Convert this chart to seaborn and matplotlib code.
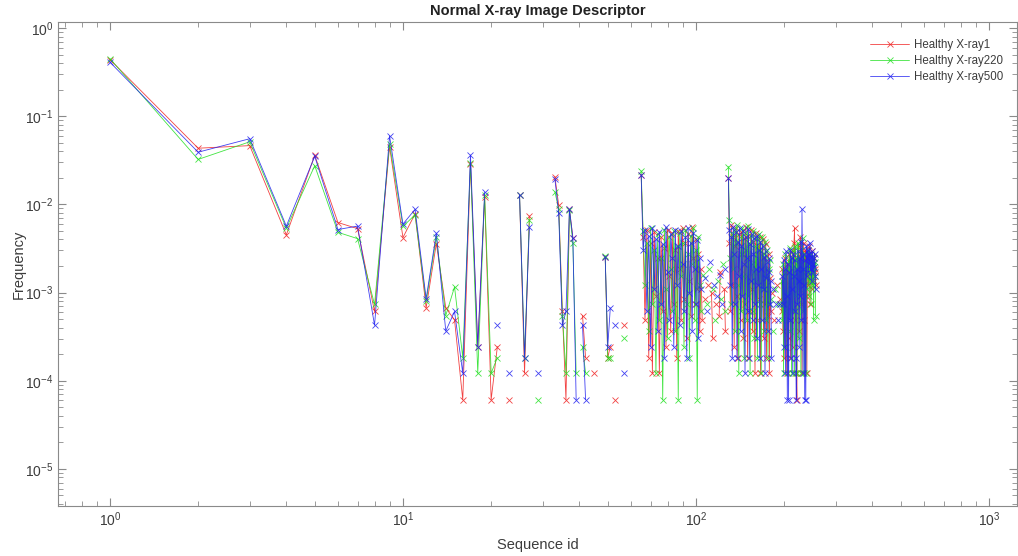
import matplotlib
matplotlib.use("Agg")
import matplotlib.pyplot as plt
from matplotlib.lines import Line2D
from matplotlib.ticker import LogLocator, NullFormatter
import numpy as np
import pandas as pd
import seaborn as sns

# Pixel counts per descriptor bin (128 x 128 images), 256 bins per image.
N_PIXELS = 128 * 128

xray1_counts = [
    7200, 710, 760, 74, 590, 102, 87, 10, 740, 69, 128, 11, 59, 11, 8, 1,
    475, 4, 197, 1, 4, 0, 1, 0, 208, 2, 121, 0, 0, 0, 0, 0,
    338, 161, 10, 1, 144, 69, 0, 0, 9, 3, 0, 0, 2, 0, 0, 0,
    42, 3, 4, 0, 1, 0, 0, 0, 7, 0, 0, 0, 0, 0, 0, 0,
    354, 70, 8, 85, 3, 60, 2, 80, 15, 40, 2, 70, 10, 52, 4, 85,
    25, 6, 78, 12, 50, 3, 82, 30, 8, 88, 14, 60, 5, 75, 22, 9,
    90, 40, 12, 66, 18, 45, 6, 30, 8, 0, 14, 0, 0, 20, 0, 0,
    16, 5, 0, 0, 12, 0, 0, 9, 28, 0, 0, 0, 18, 6, 0, 0,
    330, 60, 10, 95, 20, 70, 4, 55, 88, 15, 3, 75, 30, 8, 80, 45,
    5, 68, 12, 90, 25, 3, 72, 40, 10, 85, 18, 6, 62, 28, 2, 78,
    35, 8, 55, 14, 70, 2, 48, 20, 66, 5, 40, 12, 58, 3, 30, 9,
    45, 2, 24, 10, 0, 16, 0, 0, 8, 0, 0, 0, 20, 0, 0, 0,
    14, 0, 0, 10, 30, 6, 22, 3, 40, 12, 28, 2, 35, 15, 5, 45,
    20, 3, 30, 10, 50, 4, 25, 60, 88, 8, 35, 2, 1, 42, 18, 55,
    6, 30, 70, 12, 45, 2, 38, 20, 60, 8, 28, 50, 15, 40, 2, 33,
    45, 20, 30, 55, 12, 38, 25, 48, 18, 35, 42, 22, 40, 28, 30, 20,
]

xray220_counts = [
    7370, 530, 840, 88, 450, 79, 67, 12, 800, 92, 125, 13, 70, 9, 19, 3,
    487, 2, 210, 2, 3, 0, 0, 0, 208, 3, 110, 0, 1, 0, 0, 0,
    228, 145, 9, 2, 140, 60, 2, 0, 4, 2, 0, 0, 0, 0, 0, 0,
    43, 3, 3, 0, 0, 0, 0, 0, 5, 0, 0, 0, 0, 0, 0, 0,
    393, 82, 20, 60, 6, 88, 12, 50, 2, 75, 8, 40, 1, 85, 18, 5,
    70, 30, 10, 82, 6, 55, 1, 78, 25, 60, 4, 85, 12, 45, 3, 72,
    35, 88, 8, 50, 1, 70, 20, 10, 0, 26, 0, 0, 12, 0, 30, 0,
    0, 18, 0, 8, 0, 0, 22, 0, 0, 14, 0, 35, 0, 10, 0, 0,
    440, 110, 40, 12, 75, 30, 85, 6, 60, 95, 20, 2, 70, 45, 10, 88,
    25, 3, 78, 50, 8, 92, 15, 60, 2, 72, 35, 10, 82, 5, 55, 22,
    68, 3, 40, 75, 12, 50, 2, 70, 18, 45, 6, 62, 25, 8, 50, 3,
    30, 12, 38, 0, 14, 0, 6, 0, 0, 18, 0, 0, 0, 12, 0, 0,
    0, 12, 0, 22, 8, 35, 2, 28, 10, 45, 4, 30, 16, 2, 38, 12,
    52, 6, 40, 2, 25, 48, 10, 33, 2, 55, 15, 40, 2, 28, 60, 5,
    42, 18, 35, 2, 50, 22, 68, 10, 30, 2, 45, 25, 2, 35, 18, 40,
    28, 50, 15, 35, 22, 45, 12, 30, 38, 20, 42, 8, 32, 25, 36, 9,
]

xray500_counts = [
    6720, 640, 910, 93, 575, 85, 93, 7, 980, 98, 144, 14, 77, 6, 10, 2,
    595, 4, 224, 0, 7, 0, 2, 0, 208, 3, 90, 0, 2, 0, 0, 0,
    318, 131, 7, 10, 144, 69, 1, 0, 7, 1, 0, 0, 0, 0, 0, 0,
    41, 4, 11, 0, 7, 0, 0, 0, 2, 0, 0, 0, 0, 0, 0, 0,
    354, 50, 85, 10, 72, 4, 88, 18, 66, 6, 80, 12, 58, 3, 90, 28,
    8, 75, 40, 4, 85, 20, 55, 7, 82, 35, 10, 70, 3, 88, 16, 60,
    6, 78, 30, 12, 64, 5, 40, 18, 0, 0, 24, 0, 10, 0, 0, 36,
    0, 0, 20, 0, 0, 15, 0, 0, 26, 0, 12, 0, 0, 30, 0, 0,
    325, 85, 20, 70, 3, 90, 45, 12, 80, 3, 62, 25, 88, 6, 55, 15,
    82, 35, 2, 70, 40, 10, 86, 3, 58, 22, 75, 8, 45, 68, 12, 30,
    5, 72, 20, 50, 3, 62, 30, 8, 55, 18, 42, 2, 48, 24, 36, 6,
    28, 40, 12, 22, 3, 0, 18, 0, 0, 0, 12, 0, 0, 0, 8, 0,
    12, 0, 0, 0, 25, 12, 38, 4, 30, 2, 48, 15, 1, 35, 1, 28,
    8, 50, 3, 40, 18, 2, 45, 25, 10, 38, 3, 1, 30, 12, 48, 22,
    4, 40, 15, 62, 8, 144, 30, 2, 45, 20, 1, 38, 1, 55, 25, 40,
    50, 28, 45, 35, 60, 30, 42, 22, 48, 35, 28, 40, 32, 45, 25, 18,
]

series_names = ["Healthy X-ray1", "Healthy X-ray220", "Healthy X-ray500"]
series_counts = [xray1_counts, xray220_counts, xray500_counts]
series_colors = ["#f02020", "#20e020", "#2020f0"]


def to_frame(name, counts):
    """Long-form table; empty bins break the line (log scale cannot show 0)."""
    rows = []
    segment = 0
    for seq_id, c in enumerate(counts, start=1):
        if c == 0:
            segment += 1
            continue
        rows.append({"seq": seq_id, "freq": c / N_PIXELS,
                     "series": name, "segment": segment})
    return pd.DataFrame(rows)


sns.set_theme(style="white")
plt.rcParams["font.family"] = ["Liberation Sans", "DejaVu Sans"]
plt.rcParams["mathtext.default"] = "regular"
plt.rcParams["axes.unicode_minus"] = False

W, H = 1018, 556
fig = plt.figure(figsize=(W / 100, H / 100), dpi=100, facecolor="white")
ax = fig.add_axes([58 / W, 1 - 506 / H, (1017 - 58) / W, (506 - 22) / H])

for name, counts, color in zip(series_names, series_counts, series_colors):
    df = to_frame(name, counts)
    sns.lineplot(data=df, x="seq", y="freq", units="segment", estimator=None,
                 sort=False, color=color, marker="x", markersize=5,
                 markeredgecolor=color, markeredgewidth=0.6, linewidth=0.6,
                 alpha=0.85, legend=False, ax=ax)

ax.set_xscale("log")
ax.set_yscale("log")
ax.set_xlim(0.665, 1246)
ax.set_ylim(3.8e-6, 1.17)

ax.xaxis.set_major_locator(LogLocator(base=10, numticks=10))
ax.yaxis.set_major_locator(LogLocator(base=10, numticks=10))
ax.xaxis.set_minor_locator(LogLocator(base=10, subs=np.arange(2, 10), numticks=20))
ax.yaxis.set_minor_locator(LogLocator(base=10, subs=np.arange(2, 10), numticks=20))
ax.xaxis.set_minor_formatter(NullFormatter())
ax.yaxis.set_minor_formatter(NullFormatter())

axis_gray = "#8a8a8a"
text_gray = "#3c3c3c"
for sp in ax.spines.values():
    sp.set_visible(True)
    sp.set_color(axis_gray)
    sp.set_linewidth(0.8)
ax.tick_params(which="both", direction="in", bottom=True, left=True,
               top=True, right=True, color=axis_gray,
               labelcolor=text_gray, labelsize=10)
ax.tick_params(which="major", length=6, width=0.8)
ax.tick_params(which="minor", length=3.5, width=0.6)
ax.grid(False)

ax.set_xlabel("Sequence id", fontsize=10.5, color=text_gray, labelpad=6)
ax.set_ylabel("Frequency", fontsize=10.5, color=text_gray, labelpad=-0.5)
ax.set_title("Normal X-ray Image Descriptor", fontsize=10.5,
             fontweight="bold", color="#222222", pad=5)

handles = [Line2D([], [], color=c, marker="x", markersize=5,
                  markeredgewidth=0.6, linewidth=0.6, alpha=0.85)
           for c in series_colors]
ax.legend(handles, series_names, loc="upper right", frameon=False,
          fontsize=8.3, handlelength=3.4, handletextpad=0.45,
          labelspacing=0.35, bbox_to_anchor=(1014 / W, 1 - 29 / H),
          bbox_transform=fig.transFigure, labelcolor=text_gray)

fig.savefig("out.png", dpi=100, facecolor="white")
